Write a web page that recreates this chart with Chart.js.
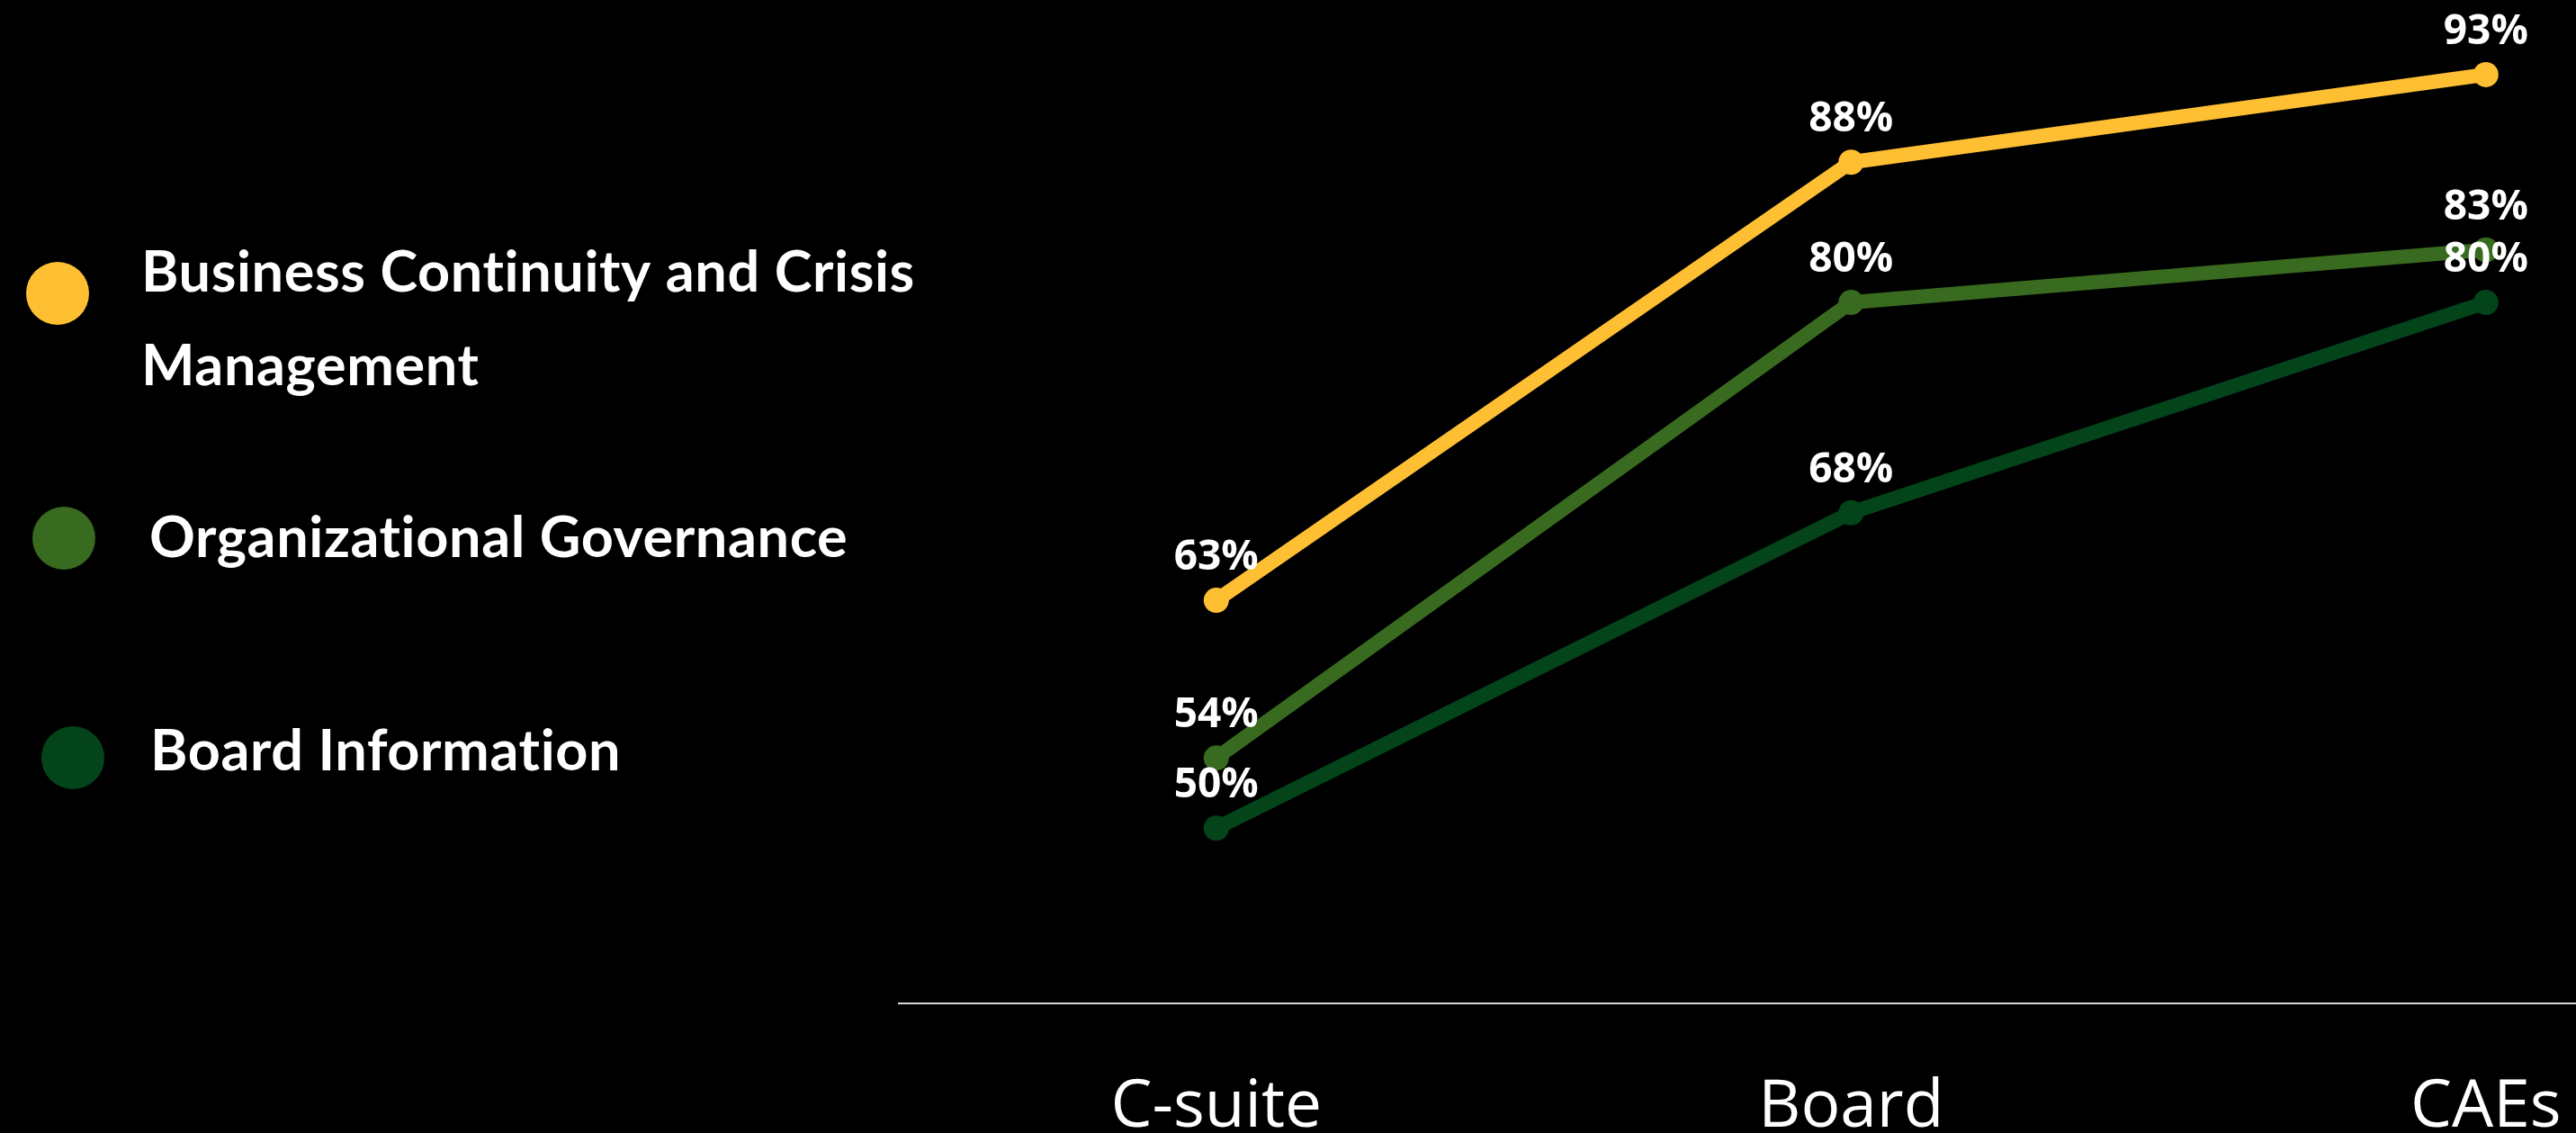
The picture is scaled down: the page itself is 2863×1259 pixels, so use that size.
<!DOCTYPE html>
<html lang="en">
<head>
    <meta charset="UTF-8">
    <title>Risk Areas by Role</title>
    <script src="https://cdn.jsdelivr.net/npm/chart.js"></script>
    <style>
        html, body {
            margin: 0;
            height: 100%;
            overflow: hidden;
            background-color: #000;
        }
        canvas {
            display: block;
            width: 100vw;
            height: 100vh;
        }
    </style>
</head>
<body>
    <canvas id="roleChart"></canvas>
    <script>
        // data
        const categories = ['C-suite', 'Board', 'CAEs'];
        const seriesNames = ['Business Continuity and Crisis Management', 'Organizational Governance', 'Board Information'];
        const businessContinuity = [63, 88, 93];
        const orgGovernance = [54, 80, 83];
        const boardInformation = [50, 68, 80];

        const colors = ['#FFBF33', '#386A1F', '#03441A'];

        // where each legend entry sits on the left side
        const legendSpots = [
            { cx: 64, cy: 326, tx: 157, ty: 324 },
            { cx: 71, cy: 598, tx: 166, ty: 619 },
            { cx: 81, cy: 842, tx: 167, ty: 856 }
        ];

        const toPoints = arr => arr.map((v, i) => ({ x: i, y: v }));

        const valueLabels = {
            id: 'valueLabels',
            afterDatasetsDraw(chart) {
                const ctx = chart.ctx;
                ctx.save();
                ctx.fillStyle = '#fff';
                ctx.font = 'bold 46px "Open Sans"';
                ctx.textAlign = 'center';
                ctx.textBaseline = 'alphabetic';
                chart.data.datasets.forEach((ds, i) => {
                    chart.getDatasetMeta(i).data.forEach((pt, j) => {
                        ctx.fillText(ds.data[j].y + '%', pt.x, pt.y - 34);
                    });
                });
                ctx.restore();
            }
        };

        const sideLegend = {
            id: 'sideLegend',
            afterDraw(chart) {
                const ctx = chart.ctx;
                ctx.save();
                ctx.font = 'bold 63px Lato';
                ctx.letterSpacing = '0.6px'; // also stops the "ti" ligature
                ctx.textBaseline = 'alphabetic';
                chart.data.datasets.forEach((ds, i) => {
                    const s = legendSpots[i];
                    ctx.fillStyle = ds.borderColor;
                    ctx.beginPath();
                    ctx.arc(s.cx, s.cy, 35, 0, Math.PI * 2);
                    ctx.fill();
                    // wrap long names
                    const words = ds.label.split(' ');
                    const lines = [];
                    let line = '';
                    words.forEach(w => {
                        const test = line ? line + ' ' + w : w;
                        if (ctx.measureText(test).width > 900 && line) {
                            lines.push(line);
                            line = w;
                        } else {
                            line = test;
                        }
                    });
                    lines.push(line);
                    ctx.fillStyle = '#fff';
                    lines.forEach((l, k) => ctx.fillText(l, s.tx, s.ty + k * 104));
                });
                ctx.restore();
            }
        };

        new Chart(document.getElementById('roleChart'), {
            type: 'line',
            data: {
                datasets: [
                    { label: seriesNames[0], data: toPoints(businessContinuity), borderColor: colors[0], backgroundColor: colors[0] },
                    { label: seriesNames[1], data: toPoints(orgGovernance), borderColor: colors[1], backgroundColor: colors[1] },
                    { label: seriesNames[2], data: toPoints(boardInformation), borderColor: colors[2], backgroundColor: colors[2] }
                ].map(ds => Object.assign(ds, {
                    borderWidth: 16,
                    tension: 0,
                    pointRadius: 14,
                    pointBorderWidth: 0,
                    pointBackgroundColor: ds.borderColor,
                    pointHoverRadius: 14,
                    clip: false
                }))
            },
            options: {
                responsive: true,
                maintainAspectRatio: false,
                devicePixelRatio: 1,
                animation: false,
                events: [],
                layout: { autoPadding: false, padding: { left: 999, right: 0, top: 5, bottom: 0 } },
                scales: {
                    x: {
                        type: 'linear',
                        min: -0.5,
                        max: 2.142,
                        grid: { display: false },
                        border: { display: true, color: '#d9d9d9', width: 2 },
                        afterBuildTicks: scale => {
                            scale.ticks = categories.map((c, i) => ({ value: i }));
                        },
                        afterFit: scale => {
                            scale.height = 144;
                            scale.paddingLeft = 0;
                            scale.paddingRight = 0;
                        },
                        ticks: {
                            color: '#fff',
                            padding: 64,
                            maxRotation: 0,
                            autoSkip: false,
                            font: { family: '"Open Sans"', size: 73 },
                            callback: value => categories[value]
                        }
                    },
                    y: {
                        display: false,
                        min: 40,
                        max: 97
                    }
                },
                plugins: {
                    legend: { display: false },
                    tooltip: { enabled: false }
                }
            },
            plugins: [valueLabels, sideLegend]
        });
    </script>
</body>
</html>
